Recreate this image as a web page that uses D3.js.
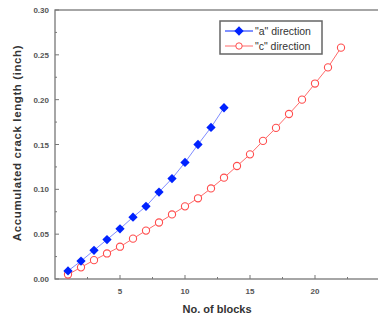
<!DOCTYPE html>
<html>
<head>
<meta charset="utf-8">
<script src="https://cdn.jsdelivr.net/npm/d3@7"></script>
<style>
  body { margin: 0; background: #fff; }
  svg { display: block; font-family: Arial, "Liberation Sans", sans-serif; }
</style>
</head>
<body>
<svg id="chart" width="378" height="320"></svg>
<script>
// data
const blocksA = [1, 2, 3, 4, 5, 6, 7, 8, 9, 10, 11, 12, 13];
const crackA = [0.009, 0.020, 0.032, 0.044, 0.056, 0.069, 0.081, 0.097, 0.112, 0.130, 0.150, 0.169, 0.191];
const blocksC = [1, 2, 3, 4, 5, 6, 7, 8, 9, 10, 11, 12, 13, 14, 15, 16, 17, 18, 19, 20, 21, 22];
const crackC = [0.005, 0.013, 0.021, 0.0285, 0.036, 0.045, 0.054, 0.063, 0.072, 0.081, 0.090, 0.101, 0.113, 0.126, 0.139, 0.154, 0.1685, 0.184, 0.200, 0.218, 0.236, 0.258];
const xTicks = [5, 10, 15, 20];
const yTicks = [0.00, 0.05, 0.10, 0.15, 0.20, 0.25, 0.30];
const legendLabels = ['"a" direction', '"c" direction'];

const svg = d3.select("#chart");
const mLeft = 55, mTop = 10, mRight = 380, mBottom = 279;

const x = d3.scaleLinear().domain([0, 25]).range([mLeft, mRight]);
const y = d3.scaleLinear().domain([0, 0.30]).range([mBottom, mTop]);

const axisColor = "#777";
const labelColor = "#555";

// frame
svg.append("rect")
    .attr("x", mLeft).attr("y", mTop)
    .attr("width", mRight - mLeft).attr("height", mBottom - mTop)
    .attr("fill", "none").attr("stroke", axisColor).attr("stroke-width", 1.3);

// x axis ticks (inside)
const gx = svg.append("g");
gx.selectAll("line.major").data(xTicks).enter().append("line")
    .attr("x1", d => x(d)).attr("x2", d => x(d))
    .attr("y1", mBottom).attr("y2", mBottom - 4)
    .attr("stroke", axisColor);
gx.selectAll("line.minor").data(d3.range(2.5, 25, 5)).enter().append("line")
    .attr("x1", d => x(d)).attr("x2", d => x(d))
    .attr("y1", mBottom).attr("y2", mBottom - 2)
    .attr("stroke", axisColor);
gx.selectAll("text").data(xTicks).enter().append("text")
    .attr("x", d => x(d)).attr("y", mBottom + 15)
    .attr("text-anchor", "middle")
    .attr("font-size", 8).attr("font-weight", "bold").attr("fill", labelColor)
    .text(d => d);

// y axis ticks (inside)
const gy = svg.append("g");
gy.selectAll("line.major").data(yTicks).enter().append("line")
    .attr("x1", mLeft).attr("x2", mLeft + 4)
    .attr("y1", d => y(d)).attr("y2", d => y(d))
    .attr("stroke", axisColor);
gy.selectAll("line.minor").data(d3.range(0.025, 0.3, 0.05)).enter().append("line")
    .attr("x1", mLeft).attr("x2", mLeft + 2)
    .attr("y1", d => y(d)).attr("y2", d => y(d))
    .attr("stroke", axisColor);
gy.selectAll("text").data(yTicks).enter().append("text")
    .attr("x", mLeft - 6).attr("y", d => y(d) + 3)
    .attr("text-anchor", "end")
    .attr("font-size", 8).attr("font-weight", "bold").attr("fill", labelColor)
    .text(d => d.toFixed(2));

// axis titles
svg.append("text")
    .attr("x", 217).attr("y", 313)
    .attr("text-anchor", "middle")
    .attr("font-size", 11).attr("font-weight", "bold").attr("fill", "#333")
    .text("No. of blocks");
svg.append("text")
    .attr("transform", `translate(21,143) rotate(-90)`)
    .attr("text-anchor", "middle")
    .attr("font-size", 11.5).attr("font-weight", "bold").attr("fill", "#333")
    .attr("letter-spacing", 0.6)
    .text("Accumulated crack length (inch)");

// series
const line = d3.line().x(d => x(d[0])).y(d => y(d[1]));
const ptsA = blocksA.map((b, i) => [b, crackA[i]]);
const ptsC = blocksC.map((b, i) => [b, crackC[i]]);

svg.append("path").datum(ptsC).attr("d", line)
    .attr("fill", "none").attr("stroke", "#ff6b6b").attr("stroke-width", 1);
svg.append("path").datum(ptsA).attr("d", line)
    .attr("fill", "none").attr("stroke", "#7f8cff").attr("stroke-width", 1);

const diamond = d3.symbol().type(d3.symbolDiamond2).size(55);

svg.append("g").selectAll("circle").data(ptsC).enter().append("circle")
    .attr("cx", d => x(d[0])).attr("cy", d => y(d[1])).attr("r", 3.6)
    .attr("fill", "#fff").attr("stroke", "#ff4d4d").attr("stroke-width", 1.1);
svg.append("g").selectAll("path").data(ptsA).enter().append("path")
    .attr("d", diamond)
    .attr("transform", d => `translate(${x(d[0])},${y(d[1])})`)
    .attr("fill", "#0022ff");

// legend
const lg = svg.append("g").attr("transform", "translate(220,21)");
lg.append("rect").attr("width", 102).attr("height", 33)
    .attr("fill", "#fff").attr("stroke", "#666").attr("stroke-width", 1.5);
lg.append("line").attr("x1", 5).attr("x2", 33).attr("y1", 10).attr("y2", 10)
    .attr("stroke", "#0022ff");
lg.append("path").attr("d", diamond).attr("transform", "translate(19,10)").attr("fill", "#0022ff");
lg.append("line").attr("x1", 5).attr("x2", 33).attr("y1", 25).attr("y2", 25)
    .attr("stroke", "#ff6b6b");
lg.append("circle").attr("cx", 19).attr("cy", 25).attr("r", 3.2)
    .attr("fill", "#fff").attr("stroke", "#ff4d4d");
lg.selectAll("text").data(legendLabels).enter().append("text")
    .attr("x", 35).attr("y", (d, i) => 14 + i * 15)
    .attr("font-size", 10.5).attr("fill", "#333")
    .text(d => d);
</script>
</body>
</html>
